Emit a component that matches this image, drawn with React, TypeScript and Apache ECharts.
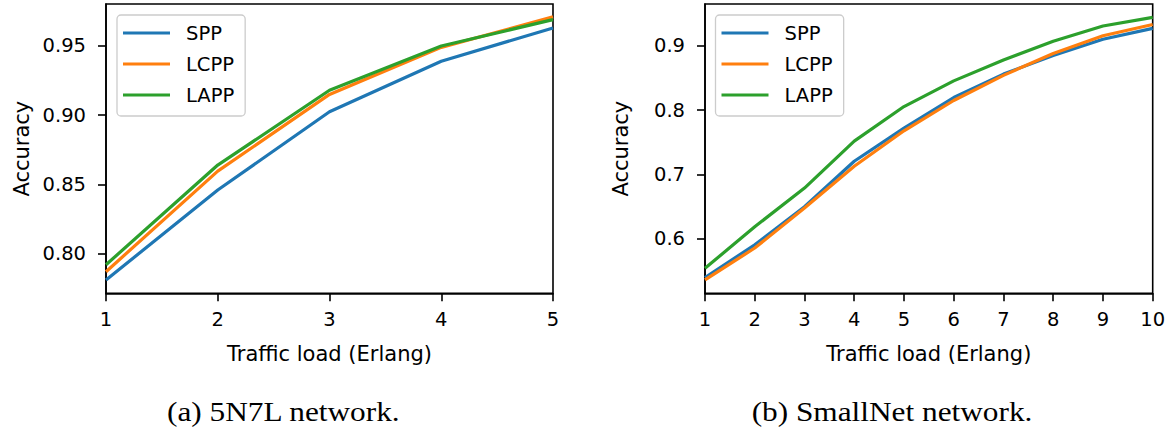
import React, { useEffect, useRef } from "react";
import * as echarts from "echarts";

const seriesNames = ["SPP", "LCPP", "LAPP"];
const colors = ["#1f77b4", "#ff7f0e", "#2ca02c"];

const loadsA = [1, 2, 3, 4, 5];
const sppA = [0.781, 0.846, 0.9025, 0.939, 0.963];
const lcppA = [0.787, 0.8596, 0.915, 0.949, 0.971];
const lappA = [0.792, 0.864, 0.918, 0.95, 0.969];

const loadsB = [1, 2, 3, 4, 5, 6, 7, 8, 9, 10];
const sppB = [0.54, 0.591, 0.65, 0.7207, 0.772, 0.8196, 0.856, 0.885, 0.91, 0.927];
const lcppB = [0.5365, 0.586, 0.648, 0.713, 0.768, 0.815, 0.854, 0.888, 0.9155, 0.933];
const lappB = [0.5545, 0.619, 0.679, 0.752, 0.8056, 0.8455, 0.878, 0.907, 0.9306, 0.944];

const yTicksA = [0.8, 0.85, 0.9, 0.95];
const yTicksB = [0.6, 0.7, 0.8, 0.9];

const xName = "Traffic load (Erlang)";
const yName = "Accuracy";
const captionA = "(a) 5N7L network.";
const captionB = "(b) SmallNet network.";

const SANS = "DejaVu Sans";
const TICK_FS = 19.5;
const NAME_FS = 21;
const LINE_W = 3.2;

function makeXAxis(gridIndex: number, max: number) {
  return {
    type: "value",
    gridIndex,
    min: 1,
    max,
    interval: 1,
    name: xName,
    nameLocation: "middle",
    nameGap: 50,
    nameTextStyle: { fontFamily: SANS, fontSize: NAME_FS, color: "#000" },
    axisLine: { show: true, lineStyle: { color: "#000", width: 1.6 } },
    axisTick: { show: true, inside: false, length: 8, lineStyle: { color: "#000", width: 1.6 } },
    axisLabel: { fontFamily: SANS, fontSize: TICK_FS, color: "#000", margin: 16 },
    splitLine: { show: false },
  };
}

function makeYAxis(gridIndex: number, min: number, max: number, ticks: number[], digits: number) {
  return {
    type: "value",
    gridIndex,
    min,
    max,
    name: yName,
    nameLocation: "middle",
    nameRotate: 90,
    nameGap: 74,
    nameTextStyle: { fontFamily: SANS, fontSize: NAME_FS, color: "#000" },
    axisLine: { show: true, lineStyle: { color: "#000", width: 1.6 } },
    axisTick: {
      show: true,
      inside: false,
      length: 8,
      customValues: ticks,
      lineStyle: { color: "#000", width: 1.6 },
    },
    axisLabel: {
      fontFamily: SANS,
      fontSize: TICK_FS,
      color: "#000",
      margin: 20,
      customValues: ticks,
      formatter: (v: number) => v.toFixed(digits),
    },
    splitLine: { show: false },
  };
}

function makeLegend(left: number) {
  return {
    left,
    top: 15,
    orient: "vertical",
    data: seriesNames,
    icon: "rect",
    itemWidth: 47,
    itemHeight: LINE_W,
    itemGap: 7,
    padding: [6, 11, 9, 6],
    backgroundColor: "rgba(255,255,255,0.8)",
    borderColor: "#cccccc",
    borderWidth: 1.3,
    borderRadius: 4,
    selectedMode: false,
    textStyle: {
      fontFamily: SANS,
      fontSize: TICK_FS,
      color: "#000",
      lineHeight: 24,
      padding: [0, 0, 0, 11],
    },
  };
}

function lineSeries(name: string, color: string, xs: number[], ys: number[], idx: number) {
  return {
    type: "line",
    name,
    xAxisIndex: idx,
    yAxisIndex: idx,
    data: xs.map((x, i) => [x, ys[i]]),
    showSymbol: false,
    symbol: "none",
    color,
    lineStyle: { color, width: LINE_W },
    itemStyle: { color },
    emphasis: { disabled: true },
  };
}

export default function App() {
  const ref = useRef<HTMLDivElement>(null);

  useEffect(() => {
    if (!ref.current) return;
    const chart = echarts.init(ref.current, undefined, { renderer: "svg" });
    const seriesA = [sppA, lcppA, lappA];
    const seriesB = [sppB, lcppB, lappB];
    chart.setOption({
      animation: false,
      backgroundColor: "#ffffff",
      grid: [
        { left: 106, top: 4, width: 447, height: 289.3, show: true, borderColor: "#000", borderWidth: 1.6, containLabel: false },
        { left: 705, top: 4, width: 447.7, height: 289.3, show: true, borderColor: "#000", borderWidth: 1.6, containLabel: false },
      ],
      xAxis: [makeXAxis(0, 5), makeXAxis(1, 10)],
      yAxis: [
        makeYAxis(0, 0.7714, 0.9803, yTicksA, 2),
        makeYAxis(1, 0.5157, 0.9648, yTicksB, 1),
      ],
      legend: [makeLegend(117), makeLegend(715.5)],
      series: [
        ...seriesNames.map((n, i) => lineSeries(n, colors[i], loadsA, seriesA[i], 0)),
        ...seriesNames.map((n, i) => lineSeries(n, colors[i], loadsB, seriesB[i], 1)),
      ],
      graphic: [
        {
          type: "text",
          x: 283.3,
          y: 412,
          scaleX: 1.16,
          style: {
            text: captionA,
            fontFamily: "Liberation Serif",
            fontSize: 27,
            fill: "#000",
            textAlign: "center",
            textVerticalAlign: "middle",
          },
        },
        {
          type: "text",
          x: 892,
          y: 412,
          scaleX: 1.16,
          style: {
            text: captionB,
            fontFamily: "Liberation Serif",
            fontSize: 27,
            fill: "#000",
            textAlign: "center",
            textVerticalAlign: "middle",
          },
        },
      ],
    });
    return () => chart.dispose();
  }, []);

  return (
    <div
      ref={ref}
      style={{ position: "fixed", left: 0, top: 0, width: 1174, height: 437, background: "#fff" }}
    />
  );
}
